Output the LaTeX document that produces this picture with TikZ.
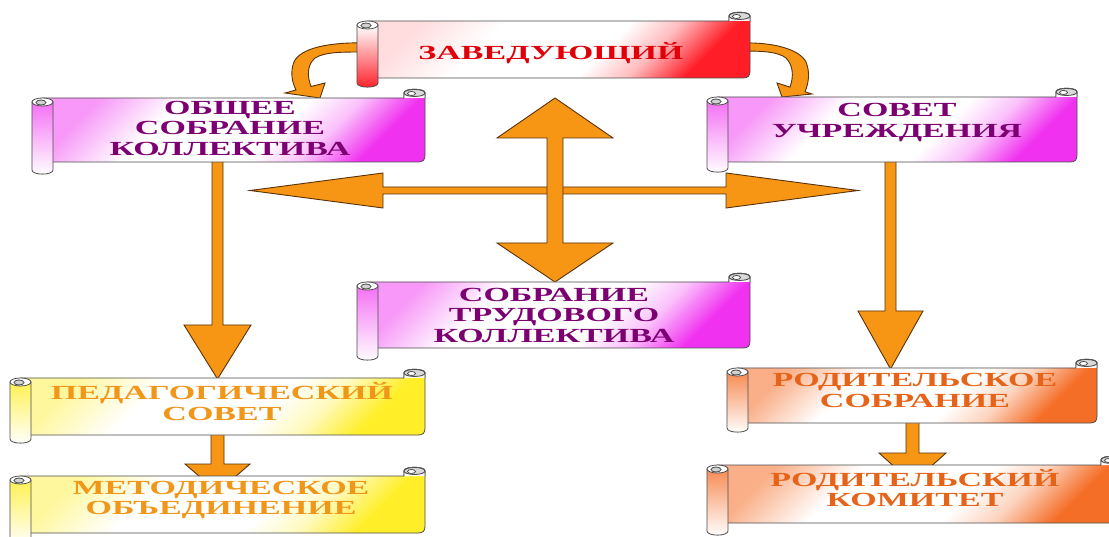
\documentclass[tikz,border=0pt]{standalone}
\usepackage{fontspec}
\setmainfont{Liberation Serif}
\newfontfamily\scrollfont{Liberation Serif}[FakeStretch=1.7]
\usetikzlibrary{calc}
\definecolor{arrowfill}{RGB}{247,150,20}
\definecolor{arrowline}{RGB}{90,50,10}
\definecolor{cred}{RGB}{255,30,40}
\definecolor{tred}{RGB}{225,0,10}
\definecolor{cmag}{RGB}{240,50,240}
\definecolor{tmag}{RGB}{125,0,115}
\definecolor{cyel}{RGB}{255,238,40}
\definecolor{tyel}{RGB}{240,150,25}
\definecolor{cora}{RGB}{245,110,40}
\definecolor{tora}{RGB}{230,100,25}
\colorlet{scA}{white}
\colorlet{scB}{white}
\pgfdeclareverticalshading[scA,scB]{scrollshade}{100bp}{%
  color(0bp)=(scB); color(25bp)=(scB); color(34bp)=(scB!30!white);
  color(42bp)=(white); color(62bp)=(white); color(75bp)=(scA); color(100bp)=(scA)}
\tikzset{
  blockarrow/.style={fill=arrowfill, draw=arrowline, line width=0.9pt, line join=miter},
  scrolledge/.style={draw=black!70, line width=0.8pt},
  scrolltext/.style={font=\scrollfont\bfseries\fontsize{20}{20.5}\selectfont, align=center, inner sep=0pt},
}
% #1 x0, #2 y0, #3 x1, #4 y1, #5 body colour (bottom right), #6 roll top colour, #7 roll bottom colour, #8 roll overhang, #9 top-left colour
\newcommand{\scrollbox}[9]{%
  \pgfmathsetmacro\sxa{#1}%
  \pgfmathsetmacro\sya{#2}%
  \pgfmathsetmacro\sxb{#3}%
  \pgfmathsetmacro\syb{#4}%
  \pgfmathsetmacro\sxm{#1+10.5}%
  \pgfmathsetmacro\sxc{#1+21}%
  \pgfmathsetmacro\sxr{#3-21}%
  \pgfmathsetmacro\sxrm{#3-10.5}%
  \pgfmathsetmacro\syr{#4+#8}%
  \colorlet{scA}{#9}\colorlet{scB}{#5}%
  \path[scrolledge, shading=scrollshade, shading angle=45]
    (\sxm,\sya) -- (\sxr,\sya) -- (\sxr,\sya-5) .. controls (\sxr,\sya-10) and (\sxb,\sya-10) .. (\sxb,\sya-5)
    -- (\sxb,\syb-7) .. controls (\sxb,\syb-2) and (\sxb-2,\syb) .. (\sxb-7,\syb) -- (\sxm,\syb) -- cycle;
  \path[scrolledge, top color=gray!40, bottom color=white]
    (\sxr,\sya) -- (\sxr,\sya-5) .. controls (\sxr,\sya-10) and (\sxb,\sya-10) .. (\sxb,\sya-5) -- (\sxb,\sya);
  \draw[scrolledge, fill=gray!30] (\sxrm,\sya-5) ellipse [x radius=10.5, y radius=3.5];
  \draw[scrolledge, fill=white] (\sxrm-3,\sya-4.5) ellipse [x radius=4, y radius=2];
  \path[scrolledge, top color=#6, bottom color=#7]
    (\sxa,\sya+4) -- (\sxa,\syr-4) .. controls (\sxa,\syr+1.5) and (\sxc,\syr+1.5) .. (\sxc,\syr-4) -- (\sxc,\sya+4) -- cycle;
  \draw[scrolledge, fill=white] (\sxm,\sya+4) ellipse [x radius=10.5, y radius=4];
  \draw[scrolledge, fill=gray!35] (\sxm-1.5,\sya+4.5) ellipse [x radius=5, y radius=2.5];
}
\begin{document}
\begin{tikzpicture}[x=1pt,y=-1pt]
\useasboundingbox (0,0) rectangle (1109,537);
\fill[white] (0,0) rectangle (1109,537);

% curved arrows from the head
\draw[blockarrow] (365,43) .. controls (330,42) and (300,48) .. (294,62)
  .. controls (290,72) and (292,82) .. (296,90) -- (285,93) -- (320,98) -- (325,83) -- (311,86.5)
  .. controls (307,76) and (307,65) .. (315,58) .. controls (325,52) and (340,52) .. (365,52) -- cycle;
\draw[blockarrow] (742,43) .. controls (775,42) and (800,50) .. (806,62)
  .. controls (810,72) and (809,82) .. (805,91.8) -- (812,94) -- (782,97) -- (777,83) -- (790,87.1)
  .. controls (794,76) and (793,65) .. (786,58) .. controls (778,52) and (765,51) .. (742,51) -- cycle;

% central cross
\draw[blockarrow] (250,190.5) -- (383,173) -- (383,187) -- (726,187) -- (726,173) -- (858,190.5)
  -- (726,208) -- (726,194) -- (383,194) -- (383,208) -- cycle;
\draw[blockarrow] (555,98) -- (613,138) -- (563,138) -- (563,243) -- (613,243) -- (555,282)
  -- (497,243) -- (547,243) -- (547,138) -- (497,138) -- cycle;

% downward arrows
\draw[blockarrow] (212,158) -- (223,158) -- (223,325) -- (251,325) -- (217.5,379) -- (184,325) -- (212,325) -- cycle;
\draw[blockarrow] (885,158) -- (896,158) -- (896,311) -- (923,311) -- (890.5,369) -- (858,311) -- (885,311) -- cycle;
\draw[blockarrow] (211,430) -- (224,430) -- (224,464) -- (250,464) -- (217.5,492) -- (185,464) -- (211,464) -- cycle;
\draw[blockarrow] (906,418) -- (919,418) -- (919,453) -- (946,453) -- (912.5,483) -- (879,453) -- (906,453) -- cycle;

% scrolls
\scrollbox{357}{21}{750}{78}{cred}{white}{cred}{9}{cred!15}
\scrollbox{32}{98}{425}{162}{cmag}{cmag!70}{white}{12}{cmag!50}
\scrollbox{707}{97}{1077}{162}{cmag}{cmag!70}{white}{10}{cmag!50}
\scrollbox{357}{282}{750}{348}{cmag}{cmag!70}{white}{12}{cmag!50}
\scrollbox{10}{378}{425}{435}{cyel}{cyel!80}{white}{8}{cyel!45}
\scrollbox{10}{476}{425}{533}{cyel}{cyel!80}{white}{12}{cyel!45}
\scrollbox{727}{368}{1097}{423}{cora}{cora!80}{white}{9}{cora!55}
\scrollbox{707}{465}{1122}{523}{cora}{cora!80}{white}{12}{cora!55}

% texts
\node[scrolltext, text=tred] (zav) at (551,53) {ЗАВЕДУЮЩИЙ};
\node[scrolltext, text=tmag] (obs) at (230,128) {ОБЩЕЕ\\СОБРАНИЕ\\КОЛЛЕКТИВА};
\node[scrolltext, text=tmag] (sov) at (897,122.5) {СОВЕТ\\УЧРЕЖДЕНИЯ};
\node[scrolltext, text=tmag] (sob) at (554,315) {СОБРАНИЕ\\ТРУДОВОГО\\КОЛЛЕКТИВА};
\node[scrolltext, text=tyel] (ped) at (222,401.5) {ПЕДАГОГИЧЕСКИЙ\\СОВЕТ};
\node[scrolltext, text=tyel] (met) at (221,500) {МЕТОДИЧЕСКОЕ\\ОБЪЕДИНЕНИЕ};
\node[scrolltext, text=tora] (rso) at (915,390.5) {РОДИТЕЛЬСКОЕ\\СОБРАНИЕ};
\node[scrolltext, text=tora] (rko) at (915,488) {РОДИТЕЛЬСКИЙ\\КОМИТЕТ};
\end{tikzpicture}
\end{document}
